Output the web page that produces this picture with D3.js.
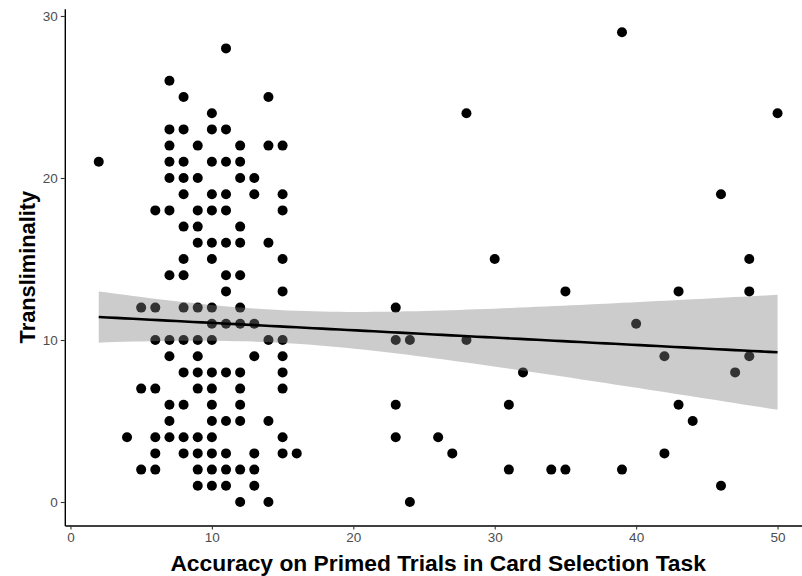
<!DOCTYPE html>
<html>
<head>
<meta charset="utf-8">
<script src="https://cdn.jsdelivr.net/npm/d3@7"></script>
<style>
  html, body { margin: 0; padding: 0; background: #fff; }
  svg { display: block; }
</style>
</head>
<body>
<svg id="chart" width="802" height="576"></svg>
<script>
// ---- Data ----
const xVals = [
  39,
  11,
  7,
  8, 14,
  10, 28, 50,
  7, 8, 10, 11,
  7, 9, 12, 14, 15,
  2, 7, 8, 10, 11, 12,
  7, 8, 9, 12, 13,
  8, 10, 11, 13, 15, 46,
  6, 7, 9, 10, 11, 15,
  8, 9, 12,
  9, 10, 11, 12, 14,
  8, 10, 15, 30, 48,
  7, 8, 11, 12,
  11, 15, 35, 43, 48,
  5, 6, 8, 9, 10, 12, 23,
  10, 11, 12, 13, 40,
  6, 7, 8, 9, 10, 14, 15, 23, 24, 28,
  7, 9, 13, 15, 42, 48,
  8, 9, 10, 11, 12, 15, 32, 47,
  5, 6, 9, 10, 12, 15,
  7, 8, 10, 12, 23, 31, 43,
  7, 10, 11, 12, 14, 44,
  4, 6, 7, 8, 9, 10, 15, 23, 26,
  6, 8, 9, 10, 11, 13, 15, 16, 27, 42,
  5, 6, 9, 10, 11, 12, 13, 31, 34, 35, 39,
  9, 10, 11, 13, 46,
  12, 14, 24
];
const yVals = [
  29,
  28,
  26,
  25, 25,
  24, 24, 24,
  23, 23, 23, 23,
  22, 22, 22, 22, 22,
  21, 21, 21, 21, 21, 21,
  20, 20, 20, 20, 20,
  19, 19, 19, 19, 19, 19,
  18, 18, 18, 18, 18, 18,
  17, 17, 17,
  16, 16, 16, 16, 16,
  15, 15, 15, 15, 15,
  14, 14, 14, 14,
  13, 13, 13, 13, 13,
  12, 12, 12, 12, 12, 12, 12,
  11, 11, 11, 11, 11,
  10, 10, 10, 10, 10, 10, 10, 10, 10, 10,
  9, 9, 9, 9, 9, 9,
  8, 8, 8, 8, 8, 8, 8, 8,
  7, 7, 7, 7, 7, 7,
  6, 6, 6, 6, 6, 6, 6,
  5, 5, 5, 5, 5, 5,
  4, 4, 4, 4, 4, 4, 4, 4, 4,
  3, 3, 3, 3, 3, 3, 3, 3, 3, 3,
  2, 2, 2, 2, 2, 2, 2, 2, 2, 2, 2,
  1, 1, 1, 1, 1,
  0, 0, 0
];
const xTicks = [0, 10, 20, 30, 40, 50];
const yTicks = [0, 10, 20, 30];
const xTitle = "Accuracy on Primed Trials in Card Selection Task";
const yTitle = "Transliminality";

// Linear fit: [intercept, slope]
const fitCoef = [11.51, -0.0454];
// 95% band: half-width = sqrt(a + b * (x - centre)^2)
const bandShape = [1.017, 0.00927, 14.65];

// ---- Layout ----
const svg = d3.select("#chart");
const W = 802, H = 576;
svg.append("rect").attr("width", W).attr("height", H).attr("fill", "#fff");

const xMin = d3.min(xVals), xMax = d3.max(xVals);
const xPad = (xMax - xMin) * 0.05;

const x = d3.scaleLinear().domain([xMin - xPad, xMax + xPad]).range([64.8, 811.5]);
const y = d3.scaleLinear().domain([-1.45, 30.45]).range([525.5, 8.7]);

const pts = xVals.map((v, i) => ({ x: v, y: yVals[i] }));

// ---- Points ----
svg.append("g").selectAll("circle").data(pts).join("circle")
  .attr("cx", d => x(d.x)).attr("cy", d => y(d.y)).attr("r", 5)
  .attr("fill", "#000");

// ---- Linear fit with 95% CI ----
const grid = d3.range(80).map(i => xMin + (xMax - xMin) * i / 79);
const band = grid.map(gx => {
  const fit = fitCoef[0] + fitCoef[1] * gx;
  const h = Math.sqrt(bandShape[0] + bandShape[1] * (gx - bandShape[2]) ** 2);
  return { x: gx, fit, lo: fit - h, hi: fit + h };
});

svg.append("path").datum(band)
  .attr("d", d3.area().x(d => x(d.x)).y0(d => y(d.lo)).y1(d => y(d.hi)))
  .attr("fill", "#808080").attr("fill-opacity", 0.4);

svg.append("path").datum(band)
  .attr("d", d3.line().x(d => x(d.x)).y(d => y(d.fit)))
  .attr("fill", "none").attr("stroke", "#000").attr("stroke-width", 2.6);

// ---- Axes ----
const xAxis = svg.append("g").attr("transform", `translate(0,${y.range()[0]})`)
  .call(d3.axisBottom(x).tickValues(xTicks).tickSize(4).tickSizeOuter(0).tickPadding(3));
const yAxis = svg.append("g").attr("transform", `translate(${x.range()[0]},0)`)
  .call(d3.axisLeft(y).tickValues(yTicks).tickSize(4).tickSizeOuter(0).tickPadding(3));

[xAxis, yAxis].forEach(g => {
  g.select(".domain").attr("stroke", "#000").attr("stroke-width", 1.4);
  g.selectAll(".tick line").attr("stroke", "#333").attr("stroke-width", 1.1);
  g.selectAll(".tick text").attr("fill", "#4d4d4d")
    .attr("font-family", "'Liberation Sans', Arial, sans-serif").attr("font-size", 13.5);
});

// ---- Titles ----
svg.append("text")
  .attr("x", (x.range()[0] + x.range()[1]) / 2).attr("y", 571)
  .attr("text-anchor", "middle")
  .attr("font-family", "'Liberation Sans', Arial, sans-serif")
  .attr("font-weight", "bold").attr("font-size", 22.8).attr("fill", "#000")
  .text(xTitle);

svg.append("text")
  .attr("transform", `translate(35,${(y.range()[0] + y.range()[1]) / 2}) rotate(-90)`)
  .attr("text-anchor", "middle")
  .attr("font-family", "'Liberation Sans', Arial, sans-serif")
  .attr("font-weight", "bold").attr("font-size", 21.8).attr("fill", "#000")
  .text(yTitle);
</script>
</body>
</html>
